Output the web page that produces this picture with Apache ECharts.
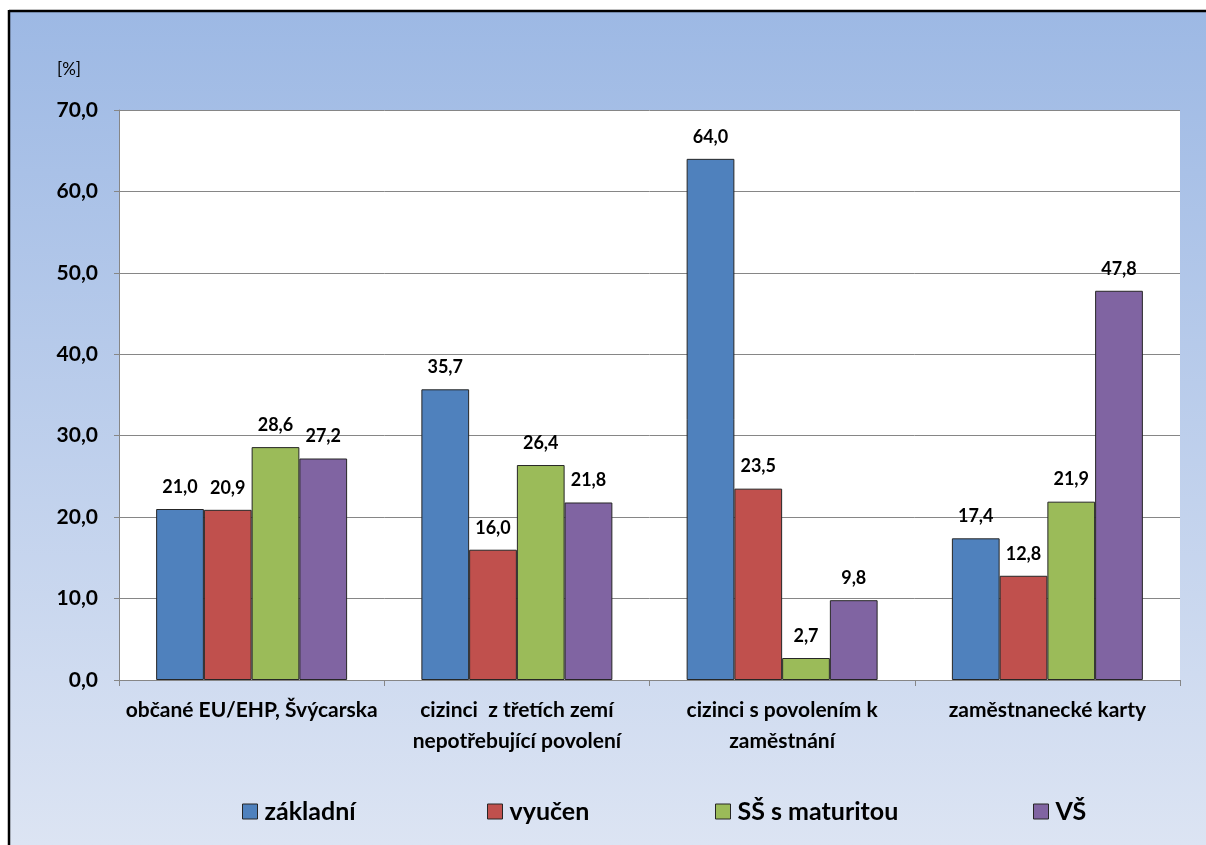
<!DOCTYPE html>
<html>
<head>
<meta charset="utf-8">
<script src="https://cdn.jsdelivr.net/npm/echarts@6/dist/echarts.min.js"></script>
<style>
  html, body { margin: 0; padding: 0; background: #fff; }
  #chart { width: 1206px; height: 845px; }
</style>
</head>
<body>
<div id="chart"></div>
<script>
// Podíl cizinců podle vzdělání (%)
const categories = [
  'občané EU/EHP, Švýcarska',
  'cizinci  z třetích zemí\nnepotřebující povolení',
  'cizinci s povolením k\nzaměstnání',
  'zaměstnanecké karty'
];
const seriesNames = ['základní', 'vyučen', 'SŠ s maturitou', 'VŠ'];
const zakladni = [21.0, 35.7, 64.0, 17.4];
const vyucen   = [20.9, 16.0, 23.5, 12.8];
const ssMat    = [28.6, 26.4, 2.7, 21.9];
const vs       = [27.2, 21.8, 9.8, 47.8];
const colors = ['#4F81BD', '#C0504D', '#9BBB59', '#8064A2'];

// horizontal start of each legend entry
const legendLeft = [237, 482, 710, 1028];

const FONT = 'Lato';
const fmt = v => v.toFixed(1).replace('.', ',');

const chart = echarts.init(document.getElementById('chart'), null, { renderer: 'canvas' });

function barSeries(name, data, color) {
  return {
    name: name,
    type: 'bar',
    data: data,
    barGap: '0%',
    barCategoryGap: '28%',
    itemStyle: { color: color, borderColor: '#262626', borderWidth: 1 },
    label: {
      show: true,
      position: 'top',
      distance: 13,
      color: '#000',
      fontFamily: FONT,
      fontWeight: 'bold',
      fontSize: 18,
      formatter: p => fmt(p.value)
    }
  };
}

chart.setOption({
  animation: false,
  backgroundColor: new echarts.graphic.LinearGradient(0, 0, 0, 1, [
    { offset: 0, color: '#9CB8E4' },
    { offset: 1, color: '#DCE4F3' }
  ]),
  color: colors,
  title: {
    text: '[%]',
    left: 52,
    top: 56,
    textStyle: { fontFamily: FONT, fontSize: 17, fontWeight: 'normal', color: '#000' }
  },
  grid: {
    left: 119, right: 26, top: 110, bottom: 165,
    show: true, backgroundColor: '#ffffff', borderWidth: 0
  },
  legend: seriesNames.map((n, i) => ({
    left: legendLeft[i],
    top: 794,
    itemWidth: 15,
    itemHeight: 15,
    icon: 'rect',
    itemStyle: { borderColor: '#262626', borderWidth: 1 },
    textStyle: { fontFamily: FONT, fontWeight: 'bold', fontSize: 25, color: '#000', padding: [0, 0, 0, 2] },
    data: [n]
  })),
  xAxis: {
    type: 'category',
    data: categories,
    axisLine: { lineStyle: { color: '#868686', width: 1 } },
    axisTick: { show: true, length: 6, lineStyle: { color: '#868686' } },
    axisLabel: {
      color: '#000', fontFamily: FONT, fontWeight: 'bold', fontSize: 21,
      lineHeight: 31, margin: 15, interval: 0
    }
  },
  yAxis: {
    type: 'value',
    min: 0, max: 70, interval: 10,
    axisLine: { show: true, lineStyle: { color: '#868686', width: 1 } },
    axisTick: { show: true, length: 5, lineStyle: { color: '#868686' } },
    splitLine: { lineStyle: { color: '#868686', width: 1 } },
    axisLabel: {
      color: '#000', fontFamily: FONT, fontWeight: 'bold', fontSize: 21, margin: 21,
      formatter: v => fmt(v)
    }
  },
  graphic: [
    { type: 'rect', shape: { x: 0, y: 0, width: 1206, height: 10 }, style: { fill: '#fff' }, z: 100 },
    { type: 'rect', shape: { x: 0, y: 0, width: 8, height: 845 }, style: { fill: '#fff' }, z: 100 },
    { type: 'line', shape: { x1: 9, y1: 11, x2: 1206, y2: 11 }, style: { stroke: '#000', lineWidth: 2.5 }, z: 101 },
    { type: 'line', shape: { x1: 9, y1: 10, x2: 9, y2: 845 }, style: { stroke: '#000', lineWidth: 2.5 }, z: 101 }
  ],
  series: [
    barSeries(seriesNames[0], zakladni, colors[0]),
    barSeries(seriesNames[1], vyucen, colors[1]),
    barSeries(seriesNames[2], ssMat, colors[2]),
    barSeries(seriesNames[3], vs, colors[3])
  ]
});
</script>
</body>
</html>
